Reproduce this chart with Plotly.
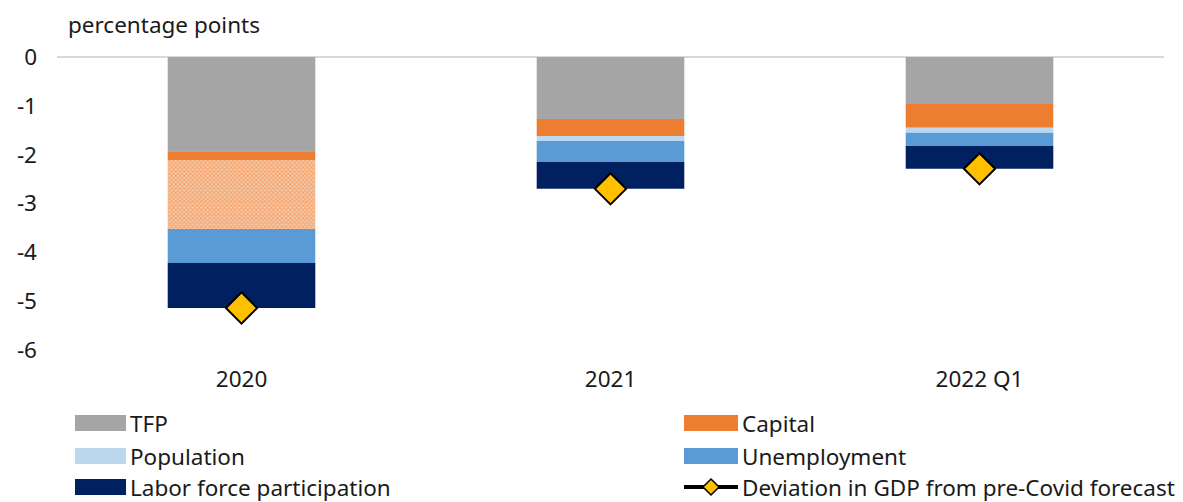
import plotly.graph_objects as go

# Growth accounting of the GDP shortfall versus the pre-Covid forecast
periods = ["2020", "2021", "2022 Q1"]
tfp = [-1.93, -1.27, -0.96]
capital = [-0.18, -0.35, -0.49]
capital_hatched = [-1.41, 0.0, 0.0]
population = [0.0, -0.10, -0.10]
unemployment = [-0.70, -0.43, -0.27]
labor_participation = [-0.92, -0.55, -0.47]
gdp_deviation = [-5.14, -2.70, -2.29]

y_ticks = [0, -1, -2, -3, -4, -5, -6]

C_TFP = "#A5A5A5"
C_CAP = "#ED7D31"
C_POP = "#BDD7EE"
C_UNE = "#5B9BD5"
C_LFP = "#002060"
C_GDP = "#FFC000"
C_CAP_LIGHT = "#F8CFB2"

FONT = "Noto Sans"
TXT = "#1a1a1a"
FS = 22.5

W, H = 1183, 502
ML, MR, MT, MB = 57, 19, 57, 152
PW, PH = W - ML - MR, H - MT - MB


def px_x(px):
    return (px - ML) / PW


def px_y(py):
    return (H - MB - py) / PH


fig = go.Figure()

bar_series = [
    ("TFP", tfp, dict(color=C_TFP)),
    ("Capital", capital, dict(color=C_CAP)),
    ("Capital (hatched)", capital_hatched,
     dict(color=C_CAP_LIGHT, pattern=dict(shape="x", fgcolor=C_CAP, bgcolor=C_CAP_LIGHT,
                                          size=3, solidity=0.6))),
    ("Population", population, dict(color=C_POP)),
    ("Unemployment", unemployment, dict(color=C_UNE)),
    ("Labor force participation", labor_participation, dict(color=C_LFP)),
]

for name, vals, marker in bar_series:
    fig.add_trace(go.Bar(
        x=periods, y=vals, name=name, width=0.4,
        marker=dict(**marker, line=dict(width=0)),
        showlegend=False,
    ))

fig.add_trace(go.Scatter(
    x=periods, y=gdp_deviation, mode="markers",
    name="Deviation in GDP from pre-Covid forecast",
    marker=dict(symbol="diamond", size=24, color=C_GDP,
                line=dict(color="black", width=2)),
    showlegend=False,
))

# Two-column legend drawn below the plot
legend_items = [
    ("TFP", C_TFP, "bar", 0, 423),
    ("Capital", C_CAP, "bar", 1, 423),
    ("Population", C_POP, "bar", 0, 456),
    ("Unemployment", C_UNE, "bar", 1, 456),
    ("Labor force participation", C_LFP, "bar", 0, 487),
    ("Deviation in GDP from pre-Covid forecast", C_GDP, "line", 1, 487),
]
col_sym = {0: (75, 126), 1: (684, 738)}

shapes = []
annotations = []
for label, color, kind, col, cy in legend_items:
    x0, x1 = col_sym[col]
    if kind == "bar":
        shapes.append(dict(type="rect", xref="paper", yref="paper",
                           x0=px_x(x0), x1=px_x(x1), y0=px_y(cy + 8), y1=px_y(cy - 8),
                           fillcolor=color, line=dict(width=0)))
    else:
        shapes.append(dict(type="line", xref="paper", yref="paper",
                           x0=px_x(x0), x1=px_x(x1), y0=px_y(cy), y1=px_y(cy),
                           line=dict(color="black", width=4)))
        mx = (x0 + x1) / 2
        r = 8
        path = (f"M {px_x(mx)} {px_y(cy - r)} L {px_x(mx + r)} {px_y(cy)} "
                f"L {px_x(mx)} {px_y(cy + r)} L {px_x(mx - r)} {px_y(cy)} Z")
        shapes.append(dict(type="path", xref="paper", yref="paper", path=path,
                           fillcolor=color, line=dict(color="black", width=1.5)))
    annotations.append(dict(xref="paper", yref="paper", x=px_x(x1 + 2), y=px_y(cy),
                            xanchor="left", yanchor="middle", showarrow=False,
                            text=label, font=dict(family=FONT, size=FS, color=TXT)))

annotations.append(dict(xref="paper", yref="paper", x=px_x(66), y=px_y(25),
                        xanchor="left", yanchor="middle", showarrow=False,
                        text="percentage points",
                        font=dict(family=FONT, size=FS, color=TXT)))

fig.update_layout(
    width=W, height=H,
    margin=dict(l=ML, r=MR, t=MT, b=MB),
    paper_bgcolor="white", plot_bgcolor="white",
    barmode="relative", bargap=0.6,
    font=dict(family=FONT, size=FS, color=TXT),
    shapes=shapes, annotations=annotations,
    showlegend=False,
    xaxis=dict(type="category", showgrid=False, zeroline=False, showline=False,
               ticks="", ticklabelstandoff=13,
               tickfont=dict(family=FONT, size=FS, color=TXT)),
    yaxis=dict(range=[-6, 0], tickvals=y_ticks, ticktext=[str(v) for v in y_ticks],
               showgrid=False, zeroline=True, zerolinecolor="#D9D9D9", zerolinewidth=2,
               showline=False, ticks="", ticklabelstandoff=19,
               tickfont=dict(family=FONT, size=FS, color=TXT)),
)

fig.write_html("out.html")
